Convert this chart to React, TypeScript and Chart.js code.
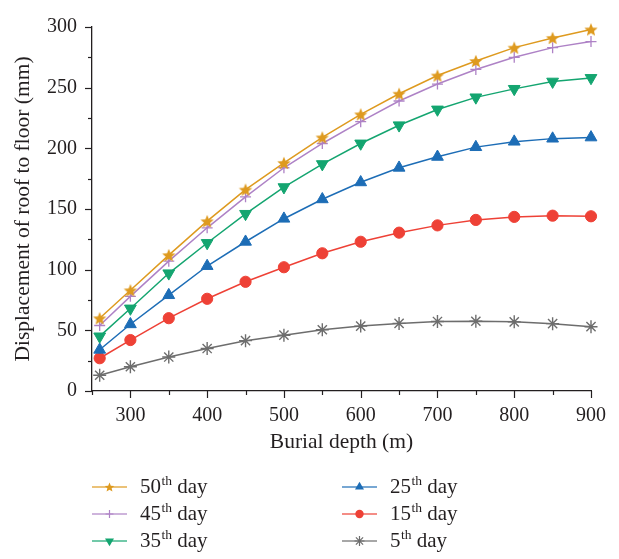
import React, { useEffect, useRef } from 'react';
import { Chart, registerables } from 'chart.js';

Chart.register(...registerables);

const depths = [260, 300, 350, 400, 450, 500, 550, 600, 650, 700, 750, 800, 850, 900];
const day50 = [60, 83, 112, 140, 166, 188, 209, 228, 245, 260, 272, 283, 291, 298];
const day45 = [54, 78, 107, 134.5, 160, 184, 204, 222, 239, 253, 265, 275, 283, 288];
const day35 = [45, 68, 97, 122, 146, 168, 187, 204, 219, 232, 242, 249, 255, 258];
const day25 = [34, 55, 79, 103, 123, 142, 158, 172, 184, 193, 201, 205.5, 208, 209];
const day15 = [27, 42, 60, 76, 90, 102, 113.5, 123, 130.5, 136.5, 141, 143.5, 144.5, 144];
const day5 = [13, 20, 28, 35, 41.5, 46, 50.5, 53.5, 55.7, 57.3, 57.5, 57, 55.5, 53];

const seriesLabels = ['50th day', '45th day', '35th day', '25th day', '15th day', '5th day'];
const seriesValues = [day50, day45, day35, day25, day15, day5];
const seriesColors = ['#DE9A1F', '#AE82C6', '#14A570', '#1D6DB6', '#EE4136', '#6D6D6D'];
const seriesMarkers = ['star5', 'cross', 'triangleDown', 'triangle', 'circle', 'asterisk'];

const xTickValues = [300, 400, 500, 600, 700, 800, 900];
const yTickValues = [0, 50, 100, 150, 200, 250, 300];

const FONT = "'Liberation Serif', 'Times New Roman', serif";
const TEXT = '#231F20';

function starPath(ctx: CanvasRenderingContext2D, cx: number, cy: number, ro: number, ri: number) {
  ctx.beginPath();
  for (let i = 0; i < 10; i++) {
    const r = i % 2 === 0 ? ro : ri;
    const a = -Math.PI / 2 + (i * Math.PI) / 5;
    const px = cx + r * Math.cos(a);
    const py = cy + r * Math.sin(a);
    if (i === 0) ctx.moveTo(px, py);
    else ctx.lineTo(px, py);
  }
  ctx.closePath();
}

function makeStar(color: string, r: number) {
  const c = document.createElement('canvas');
  const s = Math.ceil(r * 2 + 2);
  c.width = s;
  c.height = s;
  const ctx = c.getContext('2d')!;
  starPath(ctx, s / 2, s / 2 + r * 0.1, r, r * 0.45);
  ctx.fillStyle = color;
  ctx.fill();
  return c;
}

function drawMarker(ctx: CanvasRenderingContext2D, kind: string, x: number, y: number, r: number, color: string) {
  ctx.save();
  ctx.fillStyle = color;
  ctx.strokeStyle = color;
  ctx.lineWidth = 1.2;
  if (kind === 'star5') {
    starPath(ctx, x, y + r * 0.1, r, r * 0.45);
    ctx.fill();
  } else if (kind === 'cross') {
    ctx.beginPath();
    ctx.moveTo(x - r, y); ctx.lineTo(x + r, y);
    ctx.moveTo(x, y - r); ctx.lineTo(x, y + r);
    ctx.stroke();
  } else if (kind === 'asterisk') {
    ctx.beginPath();
    ctx.moveTo(x - r, y); ctx.lineTo(x + r, y);
    ctx.moveTo(x, y - r); ctx.lineTo(x, y + r);
    const d = r * 0.72;
    ctx.moveTo(x - d, y - d); ctx.lineTo(x + d, y + d);
    ctx.moveTo(x - d, y + d); ctx.lineTo(x + d, y - d);
    ctx.stroke();
  } else if (kind === 'triangle' || kind === 'triangleDown') {
    const e = (3 * r) / Math.sqrt(3);
    const h = (e * Math.sqrt(3)) / 2;
    const sgn = kind === 'triangle' ? 1 : -1;
    ctx.beginPath();
    ctx.moveTo(x - e / 2, y + (sgn * h) / 3);
    ctx.lineTo(x + e / 2, y + (sgn * h) / 3);
    ctx.lineTo(x, y - (sgn * 2 * h) / 3);
    ctx.closePath();
    ctx.fill();
  } else if (kind === 'circle') {
    ctx.beginPath();
    ctx.arc(x, y, r, 0, Math.PI * 2);
    ctx.fill();
  }
  ctx.restore();
}

const ticksPlugin = {
  id: 'customTicks',
  afterDraw(chart: any) {
    const ctx = chart.ctx as CanvasRenderingContext2D;
    const xs = chart.scales.x;
    const ys = chart.scales.y;
    ctx.save();
    ctx.strokeStyle = TEXT;
    ctx.lineWidth = 1.2;
    const bottom = ys.getPixelForValue(0);
    const left = xs.getPixelForValue(250);
    for (let v = 250; v <= 900; v += 50) {
      const px = Math.round(xs.getPixelForValue(v)) + 0.5;
      const len = v % 100 === 0 ? 7 : 4;
      ctx.beginPath();
      ctx.moveTo(px, bottom);
      ctx.lineTo(px, bottom + len);
      ctx.stroke();
    }
    for (let v = 0; v <= 300; v += 25) {
      const py = Math.round(ys.getPixelForValue(v)) + 0.5;
      const len = v % 50 === 0 ? 7 : 4;
      ctx.beginPath();
      ctx.moveTo(left, py);
      ctx.lineTo(left - len, py);
      ctx.stroke();
    }
    ctx.restore();
  },
};

const legendPlugin = {
  id: 'customLegend',
  afterDraw(chart: any) {
    const ctx = chart.ctx as CanvasRenderingContext2D;
    const rowsY = [487, 514, 541];
    const lineX = [92, 342];
    const textX = [140, 390];
    ctx.save();
    seriesLabels.forEach((label, i) => {
      const col = i < 3 ? 0 : 1;
      const row = i % 3;
      const y = rowsY[row];
      const color = seriesColors[i];
      ctx.globalAlpha = 0.8;
      ctx.strokeStyle = color;
      ctx.lineWidth = 1.6;
      ctx.beginPath();
      ctx.moveTo(lineX[col], y);
      ctx.lineTo(lineX[col] + 35, y);
      ctx.stroke();
      ctx.globalAlpha = 1;
      const mk = seriesMarkers[i];
      const r = mk === 'circle' ? 4.2 : mk === 'cross' ? 4 : mk.startsWith('tri') ? 5.2 : 5;
      drawMarker(ctx, mk, lineX[col] + 17.5, y, r, color);
      const m = label.match(/^(\d+)(th)(.*)$/);
      const num = m ? m[1] : label;
      const sup = m ? m[2] : '';
      const rest = m ? m[3] : '';
      ctx.fillStyle = TEXT;
      ctx.textBaseline = 'alphabetic';
      ctx.textAlign = 'left';
      const base = y + 6;
      let x = textX[col];
      ctx.font = `21px ${FONT}`;
      ctx.fillText(num, x, base);
      x += ctx.measureText(num).width + 0.5;
      ctx.font = `13.5px ${FONT}`;
      ctx.fillText(sup, x, base - 8);
      x += ctx.measureText(sup).width;
      ctx.font = `21px ${FONT}`;
      ctx.fillText(rest, x, base);
    });
    ctx.restore();
  },
};

export default function App() {
  const ref = useRef<HTMLCanvasElement | null>(null);

  useEffect(() => {
    if (!ref.current) return;
    const datasets = seriesLabels.map((label, i) => {
      const mk = seriesMarkers[i];
      let pointStyle: any = 'circle';
      let radius = 5.5;
      let rotation = 0;
      let bw = 1;
      if (mk === 'star5') { pointStyle = makeStar(seriesColors[i], 7); radius = 7; }
      else if (mk === 'cross') { pointStyle = 'cross'; radius = 5.5; bw = 1.3; }
      else if (mk === 'triangleDown') { pointStyle = 'triangle'; radius = 6.8; rotation = 180; }
      else if (mk === 'triangle') { pointStyle = 'triangle'; radius = 6.8; }
      else if (mk === 'circle') { pointStyle = 'circle'; radius = 5.6; }
      else if (mk === 'asterisk') { pointStyle = 'star'; radius = 6.5; bw = 1.4; }
      return {
        label,
        data: depths.map((d, j) => ({ x: d, y: seriesValues[i][j] })),
        borderColor: seriesColors[i],
        backgroundColor: seriesColors[i],
        borderWidth: 1.5,
        pointStyle,
        pointRadius: radius,
        pointRotation: rotation,
        pointBorderWidth: bw,
        pointBorderColor: seriesColors[i],
        pointBackgroundColor: seriesColors[i],
        tension: 0,
        clip: false as any,
      };
    });

    const chart = new Chart(ref.current, {
      type: 'line',
      data: { datasets },
      options: {
        animation: false,
        responsive: false,
        devicePixelRatio: 1,
        layout: { padding: { left: 0, top: 14, right: 26, bottom: 104 } },
        plugins: { legend: { display: false }, tooltip: { enabled: false } },
        scales: {
          x: {
            type: 'linear',
            min: 250,
            max: 900,
            afterBuildTicks: (s: any) => { s.ticks = xTickValues.map((v) => ({ value: v })); },
            afterFit: (s: any) => { s.height = 64; },
            grid: { display: false, drawTicks: false },
            border: { display: true, color: TEXT, width: 1.3 },
            ticks: { padding: 13, color: TEXT, font: { family: FONT, size: 20 }, maxRotation: 0, autoSkip: false },
            title: { display: true, text: 'Burial depth (m)', color: TEXT, font: { family: FONT, size: 21.5 }, padding: 0 },
          },
          y: {
            type: 'linear',
            min: 0,
            max: 300,
            afterBuildTicks: (s: any) => { s.ticks = yTickValues.map((v) => ({ value: v })); },
            afterFit: (s: any) => { s.width = 92; },
            grid: { display: false, drawTicks: false },
            border: { display: true, color: TEXT, width: 1.3 },
            ticks: { padding: 15, color: TEXT, font: { family: FONT, size: 20 }, autoSkip: false },
            title: { display: true, text: 'Displacement of roof to floor (mm)', color: TEXT, font: { family: FONT, size: 21.5 }, padding: { top: 10, bottom: 0 } },
          },
        },
      },
      plugins: [ticksPlugin, legendPlugin],
    });
    return () => chart.destroy();
  }, []);

  return (
    <div style={{ position: 'absolute', left: 0, top: 0, width: 619, height: 559, background: '#fff' }}>
      <canvas ref={ref} width={619} height={559} style={{ display: 'block', width: 619, height: 559 }} />
    </div>
  );
}
